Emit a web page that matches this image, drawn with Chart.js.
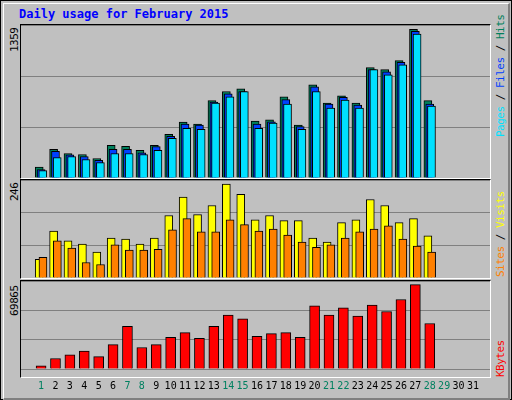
<!DOCTYPE html>
<html><head><meta charset="utf-8">
<script src="https://cdn.jsdelivr.net/npm/chart.js@4"></script>
<style>
body{margin:0;width:512px;height:400px;background:#fff;font-family:"DejaVu Sans Mono",monospace;}
#frame{position:absolute;left:0;top:0;width:510px;height:398px;border:1px solid #000;background:#c0c0c0;}
#inner{position:absolute;left:2px;top:2px;width:504px;height:394px;border-top:1px solid #fff;border-left:1px solid #fff;border-right:2px solid #808080;border-bottom:2px solid #808080;}
.panel{position:absolute;left:20px;width:469px;border-top:1px solid #000;border-left:1px solid #000;border-right:1px solid #fff;border-bottom:1px solid #fff;}
.panel canvas{position:absolute;left:0;top:0;}
.rot{position:absolute;transform-origin:0 0;transform:rotate(-90deg);white-space:nowrap;font-size:11px;letter-spacing:-0.5px;}
#title{position:absolute;left:19px;top:7px;color:#0000ff;font-weight:bold;font-size:12px;}
</style></head><body>
<div id="frame"><div id="inner"></div></div>
<div id="title">Daily usage for February 2015</div>
<div class="panel" id="p1" style="top:24px;height:153px;"><canvas id="c1"></canvas></div>
<div class="panel" id="p2" style="top:179px;height:98px;"><canvas id="c2"></canvas></div>
<div class="panel" id="p3" style="top:280px;height:96px;"></div>
<canvas id="c3" style="position:absolute;left:21px;top:281px;"></canvas>
<div class="rot" style="left:8px;top:52px;color:#000">1359</div>
<div class="rot" style="left:8px;top:201px;color:#000">246</div>
<div class="rot" style="left:8px;top:316px;color:#000">69865</div>
<div class="rot" style="left:494px;top:137px;"><span style="color:#00e0ff">Pages</span> / <span style="color:#0040ff">Files</span> / <span style="color:#00805c">Hits</span></div>
<div class="rot" style="left:494px;top:277px;"><span style="color:#ff8000">Sites</span> / <span style="color:#ffff00">Visits</span></div>
<div class="rot" style="left:494px;top:377px;"><span style="color:#ff0000">KBytes</span></div>
<script>
const days=[1,2,3,4,5,6,7,8,9,10,11,12,13,14,15,16,17,18,19,20,21,22,23,24,25,26,27,28];
const allDays=[1,2,3,4,5,6,7,8,9,10,11,12,13,14,15,16,17,18,19,20,21,22,23,24,25,26,27,28,29,30,31];
const weekendDays=[1,7,8,14,15,21,22,28,29];
const hits=[96,254,218,209,173,290,281,245,290,388,496,478,687,768,791,505,517,720,469,827,666,729,666,980,962,1042,1320,687];
const files=[75,236,206,191,158,254,254,224,278,370,478,469,675,747,768,478,499,696,457,809,657,717,648,962,944,1027,1302,657];
const pages=[66,182,191,164,137,218,218,209,245,352,442,433,666,720,768,442,487,657,433,768,621,693,621,962,917,1006,1278,639];
const visits=[47,118,93,85,65,100,98,85,100,157,203,159,182,236,210,146,157,144,144,100,90,139,146,197,182,139,149,106];
const sites=[52,93,75,39,34,83,70,70,72,121,149,116,116,146,134,118,123,108,90,77,83,100,116,123,131,98,80,65];
const kbytes=[2443,8306,11237,14168,9771,19298,33955,17100,19298,25161,28825,24428,33955,42749,39818,25894,28092,28825,25161,50078,42749,48612,42017,50811,45681,55208,66934,36154];

const XMIN=0.13, XMAX=31.66;
function pts(vals,off){return days.map((d,i)=>({x:d+off,y:vals[i]}));}
function ds(vals,off,color,w){return {data:pts(vals,off),backgroundColor:color,borderColor:'#000',borderWidth:1,barThickness:w,grouped:false};}
function opts(max,showX){
  return {responsive:false,animation:false,events:[],
    layout:{padding:0},
    plugins:{legend:{display:false},tooltip:{enabled:false}},
    scales:{
      x:{type:'linear',min:XMIN,max:XMAX,display:showX,grid:{display:false},border:{display:false},
        afterBuildTicks:a=>{a.ticks=allDays.map(v=>({value:v}));},
        ticks:{autoSkip:false,maxRotation:0,padding:3,font:{family:'DejaVu Sans Mono',size:10},
          color:c=>weekendDays.includes(c.tick.value)?'#008060':'#000',callback:v=>String(v)}},
      y:{min:0,max:max,afterBuildTicks:a=>{a.ticks=[0,1,2,3].map(k=>({value:max*k/3}));},
        ticks:{display:false},border:{display:false},grid:{color:'#808080',lineWidth:1,drawTicks:false}}
    }};
}
function mk(id,w,h,datasets,max,showX){
  const c=document.getElementById(id);c.width=w;c.height=h;c.style.width=w+'px';c.style.height=h+'px';
  new Chart(c,{type:'bar',data:{datasets},options:opts(max,showX)});
}
mk('c1',469,153,[ds(pages,0.12,'#00e0ff',8),ds(files,0.0,'#0040ff',8),ds(hits,-0.13,'#00805c',8)],1359,false);
mk('c2',469,98,[ds(sites,0.13,'#ff8000',8),ds(visits,-0.13,'#ffff00',8)],246,false);
mk('c3',469,114,[ds(kbytes,0,'#ff0000',10)],69865,true);
</script></body></html>
